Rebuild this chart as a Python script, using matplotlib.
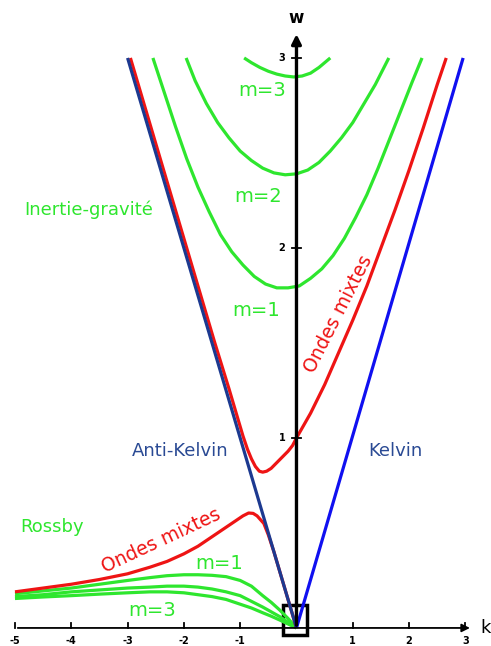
import matplotlib
matplotlib.use("Agg")
import matplotlib.pyplot as plt
from matplotlib.patches import Rectangle

#colors
c_green = "#2ee62e"  #Rossby / inertie-gravite
c_red = "#ee1414"    #ondes mixtes
c_navy = "#1c3990"   #anti-kelvin
c_blue = "#1010f0"   #kelvin
c_txtb = "#2a4a94"

# Kelvin / anti-Kelvin
k_kelvin = [0.0, 2.96]
w_kelvin = [0.0, 3.0]
k_anti = [-3.0, 0.0]
w_anti = [3.0, 0.0]

# ondes mixtes, branche haute
k_mix_up = [-2.95, -2.45, -1.95, -1.45, -1.2, -1.05, -0.95, -0.87, -0.8, -0.73, -0.66,
            -0.6, -0.53, -0.45, -0.35, -0.25, -0.15, -0.07, 0.0,
            0.25, 0.5, 0.75, 1.0, 1.25, 1.5, 1.75, 2.0, 2.25, 2.5, 2.66]
w_mix_up = [3.0, 2.5, 2.0, 1.5, 1.26, 1.11, 1.01, 0.94, 0.89, 0.85, 0.825,
            0.82, 0.825, 0.84, 0.87, 0.9, 0.93, 0.96, 1.0,
            1.13, 1.28, 1.45, 1.62, 1.8, 2.0, 2.2, 2.41, 2.63, 2.86, 3.0]

# ondes mixtes, branche basse
k_mix_lo = [-5.0, -4.5, -4.0, -3.5, -3.0, -2.6, -2.3, -2.0, -1.75, -1.5, -1.3, -1.1,
            -0.95, -0.85, -0.77, -0.7, -0.64, -0.58, -0.5, -0.4, -0.3, -0.2, -0.1, 0.0]
w_mix_lo = [0.19, 0.21, 0.23, 0.255, 0.285, 0.32, 0.35, 0.39, 0.43, 0.48, 0.52, 0.56,
            0.59, 0.605, 0.603, 0.59, 0.57, 0.55, 0.49, 0.4, 0.3, 0.2, 0.1, 0.0]

# Rossby m=1,2,3
k_ross = [-5.0, -4.5, -4.0, -3.5, -3.0, -2.6, -2.3, -2.0, -1.75, -1.5, -1.25, -1.0,
          -0.8, -0.6, -0.45, -0.3, -0.15, 0.0]
w_ross1 = [0.18, 0.195, 0.21, 0.23, 0.25, 0.265, 0.275, 0.28, 0.28, 0.277, 0.27, 0.25,
           0.22, 0.17, 0.135, 0.095, 0.05, 0.0]
w_ross2 = [0.165, 0.175, 0.19, 0.2, 0.21, 0.215, 0.22, 0.22, 0.215, 0.205, 0.19, 0.17,
           0.14, 0.11, 0.085, 0.06, 0.03, 0.0]
w_ross3 = [0.155, 0.163, 0.17, 0.178, 0.185, 0.19, 0.19, 0.185, 0.175, 0.165, 0.15, 0.125,
           0.105, 0.08, 0.062, 0.042, 0.021, 0.0]

# inertie-gravite m=1,2,3
k_ig1 = [-2.55, -2.35, -2.15, -1.95, -1.75, -1.55, -1.35, -1.15, -0.95, -0.75, -0.55,
         -0.35, -0.15, 0.05, 0.25, 0.45, 0.65, 0.85, 1.05, 1.25, 1.45, 1.65, 1.85, 2.05, 2.23]
w_ig1 = [3.0, 2.82, 2.64, 2.47, 2.32, 2.19, 2.07, 1.98, 1.91, 1.85, 1.81,
         1.79, 1.79, 1.8, 1.84, 1.89, 1.96, 2.05, 2.16, 2.28, 2.42, 2.57, 2.72, 2.87, 3.0]
k_ig2 = [-1.96, -1.8, -1.6, -1.4, -1.2, -1.0, -0.8, -0.6, -0.4, -0.2, 0.0, 0.2, 0.4,
         0.6, 0.8, 1.0, 1.2, 1.4, 1.64]
w_ig2 = [3.0, 2.88, 2.76, 2.66, 2.58, 2.51, 2.46, 2.42, 2.395, 2.385, 2.39, 2.41, 2.45,
         2.51, 2.58, 2.66, 2.76, 2.86, 3.0]
k_ig3 = [-0.93, -0.8, -0.65, -0.5, -0.35, -0.2, -0.05, 0.1, 0.25, 0.4, 0.5, 0.6]
w_ig3 = [3.0, 2.975, 2.95, 2.93, 2.915, 2.905, 2.9, 2.905, 2.92, 2.95, 2.975, 3.0]

xticks = [-5, -4, -3, -2, -1, 1, 2, 3]
yticks = [1, 2, 3]

fig = plt.figure(figsize=(4.91, 6.46), dpi=100)
ax = fig.add_axes([0, 0, 1, 1])
ax.set_xlim(-5.266, 3.455)
ax.set_ylim(-0.095, 3.305)
ax.axis("off")

lw = 2.3
ln = dict(lw=lw, solid_capstyle="butt", solid_joinstyle="round")
for kk, ww in [(k_ross, w_ross3), (k_ross, w_ross2), (k_ross, w_ross1),
               (k_ig1, w_ig1), (k_ig2, w_ig2), (k_ig3, w_ig3)]:
    ax.plot(kk, ww, color=c_green, **ln)
ax.plot(k_mix_lo, w_mix_lo, color=c_red, **ln)
ax.plot(k_mix_up, w_mix_up, color=c_red, **ln)
ax.plot(k_anti, w_anti, color=c_navy, **ln)
ax.plot(k_kelvin, w_kelvin, color=c_blue, **ln)

# axes
ax.annotate("", xy=(3.13, 0), xytext=(-5.0, 0),
            arrowprops=dict(arrowstyle="-|>", lw=1.3, color="k", mutation_scale=12))
ax.annotate("", xy=(0, 3.14), xytext=(0, 0),
            arrowprops=dict(arrowstyle="-|>", lw=2.4, color="k", mutation_scale=14))
for t in xticks:
    ax.plot([t, t], [0, 0.028], color="k", lw=1.3)
    ax.text(t, -0.068, str(t), ha="center", va="center", fontsize=7, fontweight="bold")
for t in yticks:
    ax.plot([-0.08, 0.08], [t, t], color="k", lw=1.3)
    ax.text(-0.2, t, str(t), ha="right", va="center", fontsize=7, fontweight="bold")
ax.text(0, 3.21, "w", ha="center", va="center", fontsize=12, fontweight="bold")
ax.text(3.35, 0.0, "k", ha="center", va="center", fontsize=13)

ax.add_patch(Rectangle((-0.24, -0.037), 0.43, 0.158, fill=False, ec="k", lw=2.5))

# labels
fs = 13
ax.text(-3.69, 2.2, "Inertie-gravité", color=c_green, fontsize=fs, ha="center", va="center")
ax.text(-0.61, 2.83, "m=3", color=c_green, fontsize=14, ha="center", va="center")
ax.text(-0.68, 2.27, "m=2", color=c_green, fontsize=14, ha="center", va="center")
ax.text(-0.72, 1.67, "m=1", color=c_green, fontsize=14, ha="center", va="center")
ax.text(0.74, 1.65, "Ondes mixtes", color=c_red, fontsize=13.5, ha="center", va="center",
        rotation=63, rotation_mode="anchor")
ax.text(-2.07, 0.93, "Anti-Kelvin", color=c_txtb, fontsize=fs, ha="center", va="center")
ax.text(1.75, 0.93, "Kelvin", color=c_txtb, fontsize=fs, ha="center", va="center")
ax.text(-4.34, 0.53, "Rossby", color=c_green, fontsize=fs, ha="center", va="center")
ax.text(-2.41, 0.46, "Ondes mixtes", color=c_red, fontsize=13.5, ha="center", va="center",
        rotation=25, rotation_mode="anchor")
ax.text(-1.38, 0.34, "m=1", color=c_green, fontsize=14, ha="center", va="center")
ax.text(-2.57, 0.09, "m=3", color=c_green, fontsize=14, ha="center", va="center")

plt.savefig("out.png", dpi=100, facecolor="white")
